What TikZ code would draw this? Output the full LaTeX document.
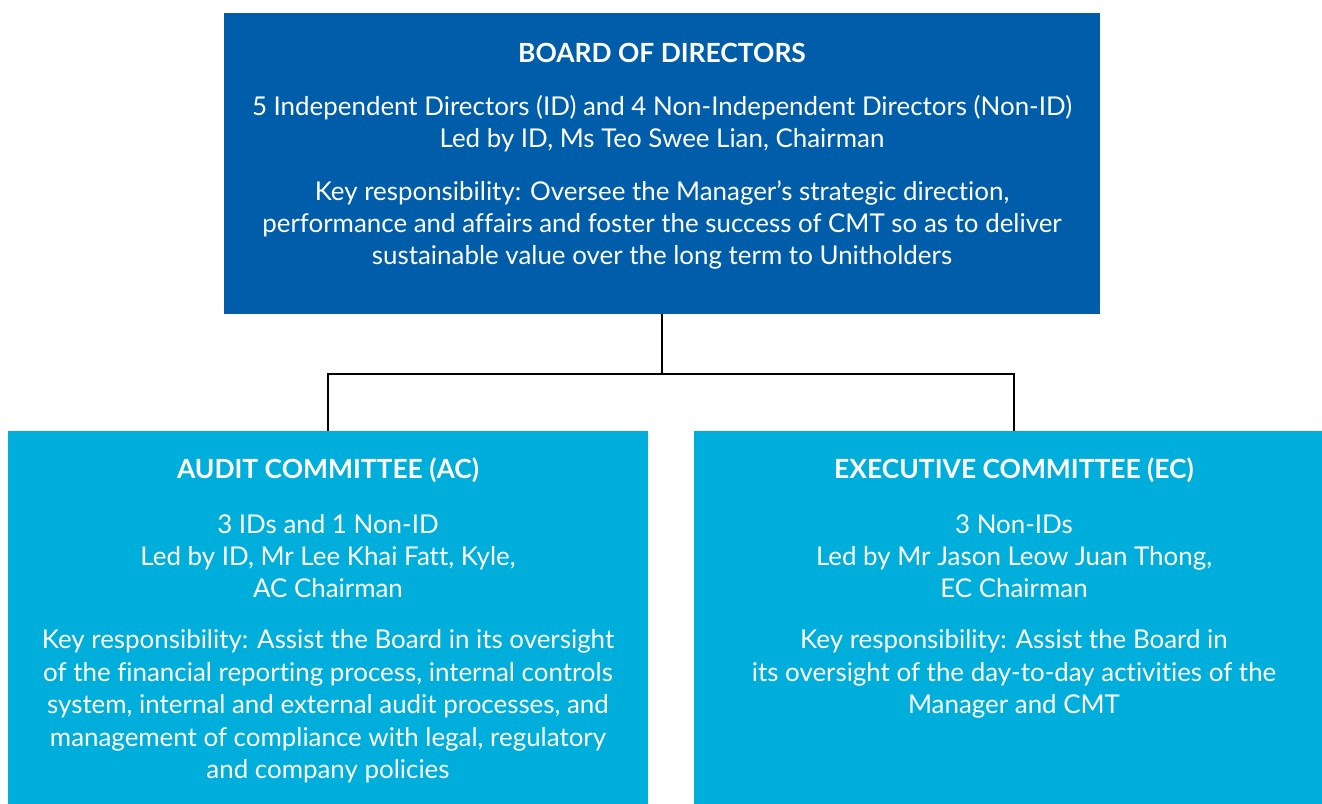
\documentclass[tikz,border=0pt]{standalone}
\usepackage{fontspec}
\setmainfont{Lato}[Ligatures={NoCommon}]
\usetikzlibrary{calc}
\definecolor{darkblue}{RGB}{0,93,170}
\definecolor{lightblue}{RGB}{0,174,219}
\tikzset{
  boxd/.style={fill=darkblue, draw=none, inner sep=0, outer sep=0},
  boxl/.style={fill=lightblue, draw=none, inner sep=0, outer sep=0},
  txt/.style={text=white, font=\fontsize{25.9}{31}\selectfont, anchor=base, inner sep=0},
  ttl/.style={txt, font=\fontsize{26.4}{31}\selectfont\bfseries},
  link/.style={draw=black, line width=2.4pt}
}
\begin{document}
\begin{tikzpicture}[x=1pt,y=-1pt]
\useasboundingbox (0,0) rectangle (1322,803);
\node[boxd, minimum width=876pt, minimum height=301pt, anchor=north west] (board) at (224,13) {};
\node[boxl, minimum width=640pt, minimum height=374pt, anchor=north west] (ac) at (8,431) {};
\node[boxl, minimum width=640pt, minimum height=374pt, anchor=north west] (ec) at (694,431) {};
\coordinate (split) at ($(board.south)+(0,60)$);
\draw[link] (board.south) -- (split);
\draw[link] (ac.north) |- (split) -| (ec.north);
% board text
\node[ttl] (b0) at (662,62) {BOARD OF DIRECTORS};
\node[txt] (b1) at (662,115) {5 Independent Directors (ID) and 4 Non-Independent Directors (Non-ID)};
\node[txt] (b2) at (662,147) {Led by ID, Ms Teo Swee Lian, Chairman};
\node[txt] (b3) at (662,200) {Key responsibility: Oversee the Manager’s strategic direction,};
\node[txt] (b4) at (662,232) {performance and affairs and foster the success of CMT so as to deliver};
\node[txt] (b5) at (662,264) {sustainable value over the long term to Unitholders};
% audit committee text
\node[ttl] (a0) at (328,478) {AUDIT COMMITTEE (AC)};
\node[txt] (a1) at (328,533) {3 IDs and 1 Non-ID};
\node[txt] (a2) at (328,565) {Led by ID, Mr Lee Khai Fatt, Kyle,};
\node[txt] (a3) at (328,597) {AC Chairman};
\node[txt] (a4) at (328,648) {Key responsibility: Assist the Board in its oversight};
\node[txt] (a5) at (328,681) {of the financial reporting process, internal controls};
\node[txt] (a6) at (328,713) {system, internal and external audit processes, and};
\node[txt] (a7) at (328,746) {management of compliance with legal, regulatory};
\node[txt] (a8) at (328,778) {and company policies};
% executive committee text
\node[ttl] (e0) at (1014,478) {EXECUTIVE COMMITTEE (EC)};
\node[txt] (e1) at (1014,533) {3 Non-IDs};
\node[txt] (e2) at (1014,565) {Led by Mr Jason Leow Juan Thong,};
\node[txt] (e3) at (1014,597) {EC Chairman};
\node[txt] (e4) at (1014,648) {Key responsibility: Assist the Board in};
\node[txt] (e5) at (1014,681) {its oversight of the day-to-day activities of the};
\node[txt] (e6) at (1014,713) {Manager and CMT};
\end{tikzpicture}
\end{document}
